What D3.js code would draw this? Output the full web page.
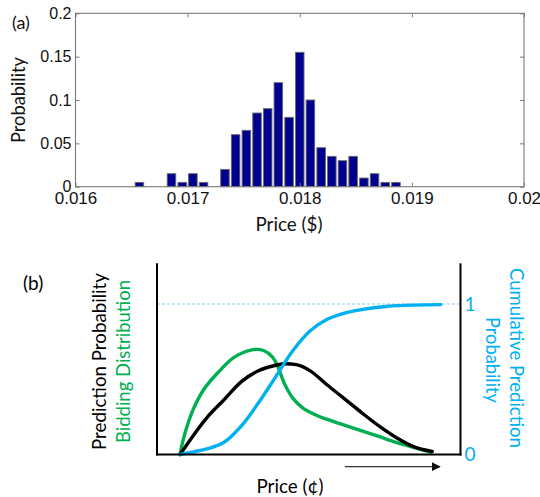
<!DOCTYPE html>
<html><head><meta charset="utf-8">
<script src="https://cdn.jsdelivr.net/npm/d3@7"></script>
<style>body{margin:0;background:#fff}svg{display:block}</style>
</head><body>
<svg id="c" width="540" height="497"></svg>
<script>
// ---- Panel (a) data: histogram ----
const binCenters = [0.016570,0.016666,0.016761,0.016856,0.016952,0.017047,0.017142,0.017238,0.017333,0.017428,0.017524,0.017619,0.017714,0.017809,0.017905,0.018000,0.018095,0.018191,0.018286,0.018381,0.018476,0.018572,0.018667,0.018762,0.018858];
const probs = [0.005,0,0,0.015,0.005,0.015,0.005,0,0.02,0.06,0.065,0.085,0.09,0.12,0.08,0.155,0.10,0.045,0.035,0.03,0.035,0.01,0.015,0.005,0.005];
const xTicksA = [0.016,0.017,0.018,0.019,0.020];
const xTickLabelsA = ["0.016","0.017","0.018","0.019","0.02"];
const yTicksA = [0,0.05,0.1,0.15,0.2];
const yTickLabelsA = ["0","0.05","0.1","0.15","0.2"];
const binStep = 0.0000953;

// ---- Panel (b) data: schematic curves ----
const greenX = [0.076,0.083,0.096,0.119,0.153,0.198,0.255,0.317,0.351,0.380,0.397,0.420,0.448,0.482,0.527,0.561,0.675,0.731,0.788,0.845,0.901];
const greenY = [0,0.070,0.168,0.298,0.429,0.538,0.647,0.697,0.691,0.649,0.590,0.471,0.373,0.307,0.259,0.233,0.157,0.120,0.081,0.048,0.015];
const blackX = [0.076,0.164,0.221,0.278,0.334,0.391,0.425,0.459,0.505,0.561,0.618,0.675,0.731,0.788,0.845,0.907];
const blackY = [0,0.244,0.364,0.484,0.556,0.593,0.603,0.597,0.556,0.462,0.370,0.277,0.190,0.113,0.052,0.020];
const blueX = [0.076,0.120,0.164,0.221,0.278,0.334,0.391,0.448,0.504,0.561,0.618,0.675,0.731,0.788,0.935];
const blueY = [0,0.018,0.037,0.081,0.190,0.342,0.516,0.691,0.821,0.898,0.940,0.963,0.978,0.989,0.996];
const rightTicksB = [0,1];
const rightTickLabelsB = ["0","1"];

const svg = d3.select("#c");
const TICKFONT = "'Liberation Sans', Arial, sans-serif";
const LABFONT = "Lato, 'Open Sans', sans-serif";

function fit(sel, target){
  const n = sel.node();
  const base = parseFloat(sel.attr("font-size"));
  const l = n.getComputedTextLength();
  sel.attr("font-size", (base*target/l).toFixed(2));
}

// ================= Panel (a) =================
const A = {l:75.5, r:524, t:13.3, b:186.7};
const xA = d3.scaleLinear().domain([0.016,0.020]).range([A.l,A.r]);
const yA = d3.scaleLinear().domain([0,0.2]).range([A.b,A.t]);
const gA = svg.append("g");

// bars
gA.selectAll("rect.bar").data(binCenters.map((c,i)=>({c, p:probs[i]})).filter(d=>d.p>0))
  .enter().append("rect").attr("class","bar")
  .attr("x", d=>xA(d.c - binStep*0.4))
  .attr("width", d=>xA(d.c + binStep*0.4) - xA(d.c - binStep*0.4))
  .attr("y", d=>yA(d.p))
  .attr("height", d=>yA(0)-yA(d.p))
  .attr("fill","#00008f").attr("stroke","#6a6a6a").attr("stroke-width",0.9);

// axes (box with inward ticks on all sides)
const axCol = "#7a7a7a";
const bottomAx = d3.axisBottom(xA).tickValues(xTicksA).tickSize(-4).tickPadding(4)
  .tickFormat((d,i)=>xTickLabelsA[i]);
const topAx = d3.axisTop(xA).tickValues(xTicksA).tickSize(-4).tickFormat("");
const leftAx = d3.axisLeft(yA).tickValues(yTicksA).tickSize(-4).tickPadding(8)
  .tickFormat((d,i)=>yTickLabelsA[i]);
const rightAx = d3.axisRight(yA).tickValues(yTicksA).tickSize(-4).tickFormat("");

function styleAxis(g){
  g.selectAll(".tick line").attr("stroke",axCol);
  g.selectAll(".tick text").attr("fill","#111");
}
const gb = gA.append("g").attr("transform",`translate(0,${A.b})`).call(bottomAx).call(styleAxis);
gb.selectAll(".tick text").attr("font-family",TICKFONT).attr("font-size",17).attr("dy","0.8em");
gA.append("g").attr("transform",`translate(0,${A.t})`).call(topAx).call(styleAxis);
const gl = gA.append("g").attr("transform",`translate(${A.l},0)`).call(leftAx).call(styleAxis);
gl.selectAll(".tick text").attr("font-family",TICKFONT).attr("font-size",16).attr("x",-4);
gA.append("g").attr("transform",`translate(${A.r},0)`).call(rightAx).call(styleAxis);
gA.selectAll(".domain").remove();
gA.append("rect").attr("x",A.l).attr("y",A.t).attr("width",A.r-A.l).attr("height",A.b-A.t)
  .attr("fill","none").attr("stroke",axCol).attr("stroke-width",1.1);

// labels
const yLabA = gA.append("text").attr("transform","translate(25,100) rotate(-90)")
  .attr("text-anchor","middle").attr("font-family",LABFONT).attr("font-size",17).attr("fill","#111").text("Probability");
fit(yLabA, 86);
const xLabA = gA.append("text").attr("x",289).attr("y",231)
  .attr("text-anchor","middle").attr("font-family",LABFONT).attr("font-size",17).attr("fill","#111").text("Price ($)");
fit(xLabA, 67);
gA.append("text").attr("x",12).attr("y",29).attr("font-family",LABFONT).attr("font-size",18).attr("fill","#111").text("(a)");

// ================= Panel (b) =================
const B = {l:157, r:460.5, t:263.3, b:454.5};
const xB = d3.scaleLinear().domain([0,1]).range([B.l,B.r]);
const yB = d3.scaleLinear().domain([0,1]).range([B.b,304]);
const gB = svg.append("g");
const GREEN = "#00b050", BLUE = "#00b0f0";

// dashed reference line at 1
gB.append("line").attr("x1",B.l).attr("x2",B.r).attr("y1",yB(1)).attr("y2",yB(1))
  .attr("stroke","#8cc7ea").attr("stroke-width",1).attr("stroke-dasharray","3,2");

const line = d3.line().x(d=>xB(d[0])).y(d=>yB(d[1])).curve(d3.curveCatmullRom.alpha(0.5));
const lineM = d3.line().x(d=>xB(d[0])).y(d=>yB(d[1])).curve(d3.curveMonotoneX);
gB.append("path").datum(greenX.map((x,i)=>[x,greenY[i]])).attr("d",line)
  .attr("fill","none").attr("stroke",GREEN).attr("stroke-width",3.4).attr("stroke-linecap","round");
gB.append("path").datum(blackX.map((x,i)=>[x,blackY[i]])).attr("d",lineM)
  .attr("fill","none").attr("stroke","#000").attr("stroke-width",3.4).attr("stroke-linecap","round");
gB.append("path").datum(blueX.map((x,i)=>[x,blueY[i]])).attr("d",line)
  .attr("fill","none").attr("stroke",BLUE).attr("stroke-width",3.4).attr("stroke-linecap","round");

// axes lines
gB.append("line").attr("x1",B.l).attr("x2",B.l).attr("y1",B.t).attr("y2",B.b+1).attr("stroke","#000").attr("stroke-width",2);
gB.append("line").attr("x1",B.r).attr("x2",B.r).attr("y1",B.t).attr("y2",B.b+1).attr("stroke","#000").attr("stroke-width",2);
gB.append("line").attr("x1",B.l-1).attr("x2",B.r+1).attr("y1",B.b).attr("y2",B.b).attr("stroke","#000").attr("stroke-width",2);

// right tick labels
gB.selectAll("text.rt").data(rightTicksB).enter().append("text").attr("class","rt")
  .attr("x",470).attr("y",d=>yB(d)).attr("dy","0.36em").attr("text-anchor","middle")
  .attr("font-family",LABFONT).attr("font-size",19).attr("fill",BLUE).text((d,i)=>rightTickLabelsB[i]);

// arrow
const defs = svg.append("defs");
defs.append("marker").attr("id","ah").attr("viewBox","0 0 10 10").attr("refX",9).attr("refY",5)
  .attr("markerWidth",9).attr("markerHeight",9).attr("markerUnits","userSpaceOnUse").attr("orient","auto")
  .append("path").attr("d","M0,0 L10,5 L0,10 Z").attr("fill","#111");
gB.append("line").attr("x1",xB(0.619)).attr("x2",xB(0.932)).attr("y1",466.7).attr("y2",466.7)
  .attr("stroke","#333").attr("stroke-width",1.2).attr("marker-end","url(#ah)");

// labels
const pl = gB.append("text").attr("transform","translate(106,361.5) rotate(-90)").attr("text-anchor","middle")
  .attr("font-family",LABFONT).attr("font-size",19).attr("fill","#000").text("Prediction Probability");
fit(pl,177);
const bd = gB.append("text").attr("transform","translate(130,361.5) rotate(-90)").attr("text-anchor","middle")
  .attr("font-family",LABFONT).attr("font-size",19).attr("fill",GREEN).text("Bidding Distribution");
fit(bd,163);
const cp = gB.append("text").attr("transform","translate(510,358) rotate(90)").attr("text-anchor","middle")
  .attr("font-family",LABFONT).attr("font-size",19).attr("fill",BLUE).text("Cumulative Prediction");
fit(cp,180);
const pb = gB.append("text").attr("transform","translate(486,360) rotate(90)").attr("text-anchor","middle")
  .attr("font-family",LABFONT).attr("font-size",19).attr("fill",BLUE).text("Probability");
fit(pb,86);
const pc = gB.append("text").attr("x",290).attr("y",493).attr("text-anchor","middle")
  .attr("font-family",LABFONT).attr("font-size",19).attr("fill","#000").text("Price (¢)");
fit(pc,67);
gB.append("text").attr("x",23).attr("y",290).attr("font-family",LABFONT).attr("font-size",19).attr("fill","#000").text("(b)");
</script>
</body></html>
